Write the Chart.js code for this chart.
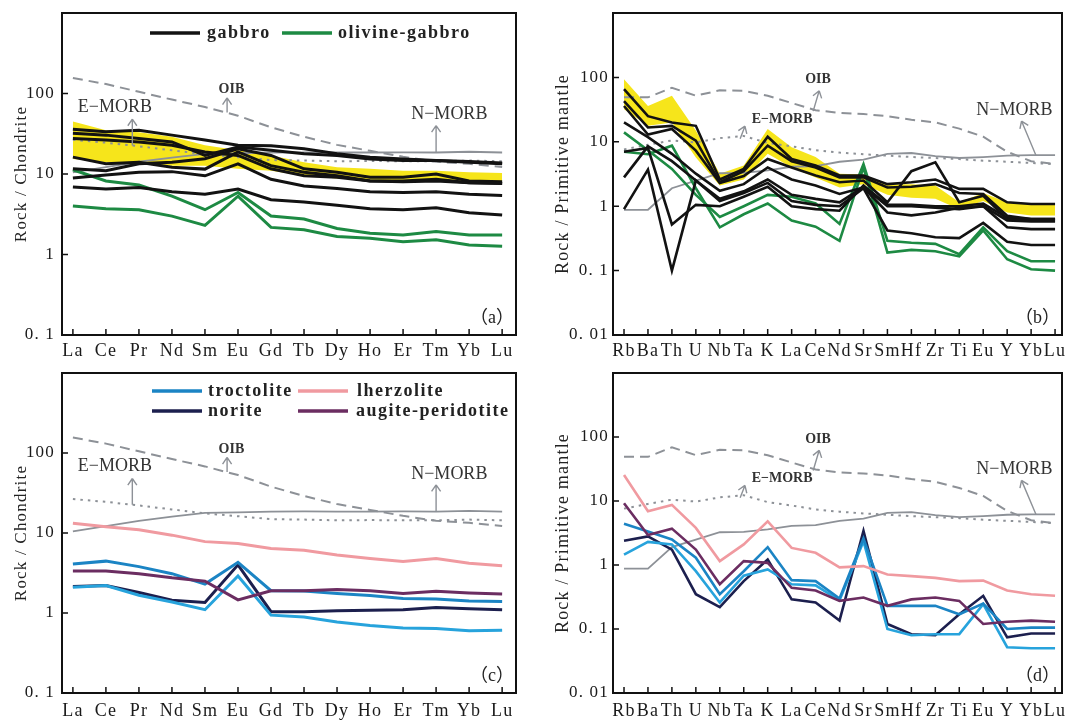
<!DOCTYPE html>
<html>
<head>
<meta charset="utf-8">
<script src="https://cdn.jsdelivr.net/npm/chart.js@4.4.1/dist/chart.umd.min.js"></script>
<style>
  html, body { margin: 0; padding: 0; background: #fff; }
  #wrap { position: relative; width: 1070px; height: 720px; }
  #wrap canvas { position: absolute; }
</style>
</head>
<body>
<div id="wrap">
  <canvas id="pa" width="535" height="360" style="left:0;top:0"></canvas>
  <canvas id="pb" width="535" height="360" style="left:535px;top:0"></canvas>
  <canvas id="pc" width="535" height="360" style="left:0;top:360px"></canvas>
  <canvas id="pd" width="535" height="360" style="left:535px;top:360px"></canvas>
</div>
<script>
// categories and tick labels
const reeLabels = ['La','Ce','Pr','Nd','Sm','Eu','Gd','Tb','Dy','Ho','Er','Tm','Yb','Lu'];
const spiderLabels = ['Rb','Ba','Th','U','Nb','Ta','K','La','Ce','Nd','Sr','Sm','Hf','Zr','Ti','Eu','Y','Yb','Lu'];
const reeTicks = [0.1, 1, 10, 100];
const spiderTicks = [0.01, 0.1, 1, 10, 100];

// reference curves, chondrite normalised
const reeOIB   = [156, 131, 105, 84, 68, 53, 38, 29, 23, 19.4, 16.4, 14.2, 13.4, 12.2];
const reeEMORB = [26.6, 24.5, 22.1, 19.7, 17.6, 16.2, 14.9, 14.7, 14.4, 14.5, 14.4, 14.4, 14.7, 14.4];
const reeNMORB = [10.5, 12.2, 14.2, 16, 17.8, 18.1, 18.5, 18.6, 18.5, 18.5, 18.6, 18.5, 18.9, 18.5];

// reference curves, primitive mantle normalised
const spOIB   = [49, 49, 69, 52, 63, 62, 52, 40, 31, 28, 27, 25, 22, 20, 16, 12, 7, 5, 4.5];
const spEMORB = [7.6, 9, 10.5, 9.8, 11.4, 12.3, 9.6, 8.5, 7.4, 6.8, 6.4, 6.1, 5.8, 5.6, 5.4, 5.1, 4.9, 4.7, 4.5];
const spNMORB = [0.88, 0.88, 1.9, 2.5, 3.25, 3.3, 3.6, 4.1, 4.2, 4.9, 5.3, 6.5, 6.7, 6.0, 5.6, 5.8, 6.1, 6.2, 6.2];

// (a) gabbro / olivine-gabbro REE
const gabbroREE = [
  [36, 33.5, 35, 30.4, 26.4, 22.8, 22.4, 20.6, 17.9, 16.2, 15.4, 14.7, 14.3, 13.7],
  [32, 30.4, 27.6, 25, 17, 21.7, 19.7, 17.9, 17, 15.4, 14.7, 14.7, 14, 13.4],
  [27.6, 26.4, 25, 22.8, 18.8, 17, 11.6, 9.5, 9.1, 8.2, 8, 8.2, 7.8, 7.6],
  [16.2, 13.4, 14, 12.1, 11.5, 18.8, 12.7, 10.5, 9.5, 8.2, 8.2, 8.6, 7.8, 7.7],
  [11.6, 11, 13.4, 14, 15.5, 20.6, 17, 11.6, 10.5, 9.1, 9.1, 10, 8.2, 8.0],
  [8.9, 9.7, 10.5, 10.7, 9.5, 13.4, 8.6, 7.1, 6.6, 6.0, 5.9, 6.0, 5.6, 5.4],
  [6.9, 6.5, 6.8, 6.0, 5.6, 6.5, 4.8, 4.5, 4.1, 3.7, 3.6, 3.8, 3.3, 3.1]
];
const olGabbroREE = [
  [11.3, 8.2, 7.3, 5.3, 3.6, 5.9, 3.0, 2.76, 2.1, 1.84, 1.75, 1.93, 1.75, 1.75],
  [4.0, 3.7, 3.6, 3.0, 2.3, 5.3, 2.17, 2.03, 1.67, 1.59, 1.44, 1.52, 1.31, 1.27]
];
const bandREEUpper = [45, 35, 33, 29, 22.8, 19.7, 17, 14, 12.1, 11.6, 11, 11, 10.5, 10.3];
const bandREELower = [15.4, 14, 13.4, 12.7, 12.7, 11.6, 11, 9.5, 8.8, 8.5, 8.3, 8.3, 7.9, 7.6];

// (b) gabbro / olivine-gabbro spider
const gabbroSP = [
  [66, 25, 20, 17.7, 2.6, 3.8, 12, 5.4, 4.3, 3.0, 3.0, 2.2, 2.35, 2.6, 1.86, 1.86, 1.15, 1.08, 1.08],
  [43, 16.7, 17.7, 10.4, 2.35, 3.5, 8.7, 5.0, 4.0, 2.8, 2.8, 1.95, 2.0, 2.2, 1.6, 1.55, 0.71, 0.63, 0.63],
  [36, 13, 15.8, 7.3, 2.3, 2.95, 5.4, 4.0, 3.0, 2.35, 2.5, 1.15, 3.5, 4.8, 1.15, 1.45, 0.63, 0.6, 0.6],
  [20, 11.8, 6.5, 3.2, 1.74, 2.2, 4.0, 2.6, 2.1, 1.55, 1.95, 0.8, 0.72, 0.8, 0.95, 1.0, 0.47, 0.44, 0.44],
  [2.8, 8.5, 5.0, 2.5, 1.2, 1.6, 2.3, 1.2, 1.05, 1.0, 1.9, 0.42, 0.38, 0.33, 0.32, 0.55, 0.28, 0.25, 0.25],
  [0.9, 3.7, 0.1, 2.5, 1.3, 1.7, 2.6, 1.5, 1.3, 1.15, 2.0, 1.0, 1.0, 0.95, 0.9, 1.0, 0.6, 0.58, 0.58],
  [7, 8, 0.52, 1.05, 1.0, 1.4, 2.0, 1.0, 0.9, 0.85, 2.1, 1.05, 1.05, 1.0, 1.0, 1.1, 0.66, 0.63, 0.63]
];
const olGabbroSP = [
  [14, 7.4, 3.8, 1.5, 0.68, 1.0, 1.5, 1.4, 1.1, 0.53, 4.5, 0.29, 0.27, 0.26, 0.18, 0.47, 0.2, 0.14, 0.14],
  [7, 6.4, 8.7, 1.9, 0.47, 0.75, 1.1, 0.6, 0.48, 0.29, 4.0, 0.19, 0.21, 0.2, 0.166, 0.42, 0.15, 0.105, 0.1]
];
const bandSPUpper = [94, 36, 52, 15, 3.2, 4.3, 15.8, 8.2, 5.8, 3.2, 3.1, 2.2, 2.2, 2.1, 1.15, 1.6, 1.15, 1.1, 1.1];
const bandSPLower = [32, 17.8, 20, 5.7, 2.1, 2.6, 6.5, 4.0, 2.8, 1.95, 2.2, 1.5, 1.35, 1.3, 0.9, 1.2, 0.8, 0.72, 0.72];

// (c) REE of the other rock types
const troctoliteREE = [
  [4.1, 4.45, 3.8, 3.1, 2.3, 4.3, 1.9, 1.88, 1.75, 1.66, 1.52, 1.5, 1.41, 1.39],
  [2.1, 2.2, 1.67, 1.37, 1.1, 2.9, 0.94, 0.89, 0.77, 0.7, 0.65, 0.64, 0.6, 0.61]
];
const noriteREE = [2.14, 2.2, 1.8, 1.44, 1.35, 4.0, 1.04, 1.04, 1.07, 1.08, 1.1, 1.17, 1.13, 1.1];
const lherzoliteREE = [13.2, 12, 11, 9.4, 7.8, 7.4, 6.4, 6.1, 5.3, 4.8, 4.4, 4.8, 4.2, 3.9];
const augiteREE = [3.35, 3.35, 3.1, 2.75, 2.5, 1.46, 1.9, 1.9, 1.96, 1.9, 1.75, 1.87, 1.78, 1.73];

// (d) spider of the other rock types
const troctoliteSP = [
  [4.4, 3.35, 2.5, 1.3, 0.35, 0.8, 1.9, 0.58, 0.56, 0.3, 2.6, 0.23, 0.23, 0.23, 0.17, 0.25, 0.1, 0.105, 0.105],
  [1.45, 2.3, 2.1, 0.8, 0.26, 0.68, 0.85, 0.5, 0.48, 0.28, 2.35, 0.1, 0.08, 0.083, 0.083, 0.245, 0.052, 0.05, 0.05]
];
const noriteSP = [2.4, 2.8, 1.74, 0.35, 0.22, 0.56, 1.22, 0.29, 0.26, 0.135, 3.4, 0.12, 0.083, 0.08, 0.17, 0.33, 0.074, 0.085, 0.085];
const lherzoliteSP = [25.4, 6.9, 8.7, 3.8, 1.15, 2.1, 4.8, 1.85, 1.55, 0.92, 0.96, 0.71, 0.67, 0.63, 0.56, 0.57, 0.4, 0.35, 0.33];
const augiteSP = [9.2, 2.95, 3.7, 1.74, 0.5, 1.15, 1.08, 0.44, 0.4, 0.275, 0.31, 0.23, 0.29, 0.31, 0.275, 0.12, 0.13, 0.135, 0.13];

const SERIF = "'Liberation Serif','DejaVu Serif',serif";
const BLACK = '#121212', GREEN = '#1d8a43', YELLOW = '#f6e51b', REF = '#8d9197';
const BLUE = '#1b84c4', CYAN = '#27a3dc', PINK = '#f09aa0', NAVY = '#1c1f4e', PURPLE = '#6b2d61';

function ds(values, color, width, extra) {
  return Object.assign({
    data: values.map((v, i) => ({ x: i, y: v })),
    borderColor: color, borderWidth: width, pointRadius: 0,
    fill: false, tension: 0, order: 1
  }, extra || {});
}
function band(up, lo) {
  return [
    ds(up, 'rgba(0,0,0,0)', 0, { fill: '+1', backgroundColor: YELLOW, order: 3 }),
    ds(lo, 'rgba(0,0,0,0)', 0, { order: 3 })
  ];
}
function refs(oib, emorb, nmorb) {
  return [
    ds(oib, REF, 2, { borderDash: [10, 6], order: 2 }),
    ds(emorb, REF, 2, { borderDash: [2.5, 5], order: 2 }),
    ds(nmorb, REF, 1.8, { order: 2 })
  ];
}

// arrows, labels, ticks, frame, legend
const decor = {
  id: 'decor',
  beforeDraw(chart) {
    // the scanned figure has wide-set lettering
    chart.ctx.letterSpacing = '1.2px';
  },
  afterDraw(chart, args, o) {
    const { ctx, chartArea: a } = chart;
    const sx = chart.scales.x, sy = chart.scales.y;
    ctx.save();
    ctx.letterSpacing = '0px';
    o.notes.forEach(n => {
      const x0 = sx.getPixelForValue(n.from[0]), y0 = sy.getPixelForValue(n.from[1]);
      const x1 = sx.getPixelForValue(n.to[0]), y1 = sy.getPixelForValue(n.to[1]);
      const ang = Math.atan2(y1 - y0, x1 - x0);
      ctx.strokeStyle = REF; ctx.lineWidth = 1.4;
      ctx.beginPath();
      ctx.moveTo(x0, y0); ctx.lineTo(x1, y1);
      [0.6, -0.6].forEach(d => {
        ctx.moveTo(x1, y1);
        ctx.lineTo(x1 - 8 * Math.cos(ang + d), y1 - 8 * Math.sin(ang + d));
      });
      ctx.stroke();
      ctx.fillStyle = '#333'; ctx.font = n.font;
      ctx.textAlign = 'center'; ctx.textBaseline = 'middle';
      ctx.fillText(n.text, sx.getPixelForValue(n.at[0]), sy.getPixelForValue(n.at[1]));
    });
    ctx.strokeStyle = '#111'; ctx.lineWidth = 1.5;
    ctx.beginPath();
    sx.ticks.forEach(t => {
      const p = sx.getPixelForValue(t.value);
      ctx.moveTo(p, a.bottom); ctx.lineTo(p, a.bottom - 6);
    });
    sy.ticks.forEach(t => {
      const p = sy.getPixelForValue(t.value);
      ctx.moveTo(a.left, p); ctx.lineTo(a.left + 6, p);
    });
    ctx.stroke();
    ctx.lineWidth = 2;
    ctx.strokeRect(a.left, a.top, a.right - a.left, a.bottom - a.top);
    ctx.letterSpacing = '1.5px';
    ctx.font = 'bold 18px ' + SERIF; ctx.textAlign = 'left'; ctx.textBaseline = 'middle';
    o.legend.forEach(l => {
      ctx.strokeStyle = l.color; ctx.lineWidth = 3.5;
      ctx.beginPath(); ctx.moveTo(l.x0, l.y); ctx.lineTo(l.x1, l.y); ctx.stroke();
      ctx.fillStyle = '#222'; ctx.fillText(l.text, l.tx, l.y);
    });
    ctx.letterSpacing = '0px';
    ctx.font = "18px 'Liberation Serif','Noto Sans CJK SC',serif";
    ctx.textAlign = 'right'; ctx.fillStyle = '#222';
    ctx.fillText(o.letter, a.right - 2, a.bottom - 17);
    ctx.restore();
  }
};

const reeNotes = [
  { text: 'E\u2212MORB', font: '18px ' + SERIF, at: [1.27, 68], from: [1.8, 22.6], to: [1.8, 48] },
  { text: 'OIB', font: 'bold 14px ' + SERIF, at: [4.8, 112], from: [4.67, 58], to: [4.67, 88] },
  { text: 'N\u2212MORB', font: '18px ' + SERIF, at: [11.4, 55], from: [11, 18.5], to: [11, 40] }
];
const spNotes = [
  { text: 'OIB', font: 'bold 14px ' + SERIF, at: [8.1, 92], from: [7.9, 30], to: [8.15, 62] },
  { text: 'E\u2212MORB', font: 'bold 14px ' + SERIF, at: [6.6, 22.5], from: [4.85, 11.2], to: [5.05, 17.5] },
  { text: 'N\u2212MORB', font: '18px ' + SERIF, at: [16.3, 31], from: [17.2, 6.2], to: [16.6, 21] }
];

function fmtTick(v) {
  if (v === 0.1) return '0. 1';
  if (v === 0.01) return '0. 01';
  return String(v);
}

function panel(id, p) {
  new Chart(document.getElementById(id), {
    type: 'line',
    data: { datasets: p.datasets },
    options: {
      responsive: false, animation: false, events: [],
      layout: { padding: { left: 0, right: p.padRight, top: 13, bottom: 0 } },
      plugins: {
        legend: { display: false }, tooltip: { enabled: false },
        decor: { notes: p.notes, legend: p.legend, letter: p.letter }
      },
      scales: {
        x: {
          type: 'linear', min: p.xmin, max: p.xmax,
          grid: { display: false, drawTicks: false }, border: { display: false },
          afterBuildTicks: s => { s.ticks = p.labels.map((_, i) => ({ value: i })); },
          afterFit: s => { s.height = p.xh; s.paddingLeft = 0; s.paddingRight = 0; },
          ticks: {
            autoSkip: false, maxRotation: 0, minRotation: 0, padding: p.xpad,
            color: '#1a1a1a', font: { family: SERIF, size: 18 },
            callback: v => p.labels[v]
          }
        },
        y: {
          type: 'logarithmic', min: p.ymin, max: 1000,
          grid: { display: false, drawTicks: false }, border: { display: false },
          afterBuildTicks: s => { s.ticks = p.yticks.map(v => ({ value: v })); },
          afterFit: s => { s.width = p.yw; s.paddingTop = 0; s.paddingBottom = 0; },
          ticks: { padding: p.ypad, color: '#1a1a1a', font: { family: SERIF, size: 17 }, callback: v => fmtTick(v) },
          title: {
            display: true, text: p.title, color: '#222',
            font: { family: SERIF, size: p.titleSize }, padding: { top: p.titlePad, bottom: 0 }
          }
        }
      }
    },
    plugins: [decor]
  });
}

const reeBase = { labels: reeLabels, xmin: -0.33, xmax: 13.42, padRight: 19, yw: 62, ymin: 0.1,
  yticks: reeTicks, ypad: 7, title: 'Rock / Chondrite', titleSize: 17, titlePad: 11, notes: reeNotes };
const spBase = { labels: spiderLabels, xmin: -0.46, xmax: 18.29, padRight: 8, yw: 78, ymin: 0.01,
  yticks: spiderTicks, ypad: 4, title: 'Rock / Primitive mantle', titleSize: 18, titlePad: 17, notes: spNotes };

panel('pa', Object.assign({}, reeBase, {
  xh: 25, xpad: 5, letter: '（a）',
  legend: [
    { text: 'gabbro', color: BLACK, x0: 150, x1: 200, y: 33, tx: 207 },
    { text: 'olivine-gabbro', color: GREEN, x0: 282, x1: 332, y: 33, tx: 338 }
  ],
  datasets: [].concat(
    band(bandREEUpper, bandREELower),
    refs(reeOIB, reeEMORB, reeNMORB),
    gabbroREE.map(r => ds(r, BLACK, 3)),
    olGabbroREE.map(r => ds(r, GREEN, 3))
  )
}));

panel('pb', Object.assign({}, spBase, {
  xh: 25, xpad: 5, letter: '（b）', legend: [],
  datasets: [].concat(
    band(bandSPUpper, bandSPLower),
    refs(spOIB, spEMORB, spNMORB),
    gabbroSP.map(r => ds(r, BLACK, 2.6)),
    olGabbroSP.map(r => ds(r, GREEN, 2.6))
  )
}));

panel('pc', Object.assign({}, reeBase, {
  xh: 27, xpad: 7, letter: '（c）',
  legend: [
    { text: 'troctolite', color: BLUE, x0: 152, x1: 202, y: 31, tx: 208 },
    { text: 'lherzolite', color: PINK, x0: 298, x1: 348, y: 31, tx: 357 },
    { text: 'norite', color: NAVY, x0: 152, x1: 202, y: 51, tx: 208 },
    { text: 'augite-peridotite', color: PURPLE, x0: 298, x1: 348, y: 51, tx: 356 }
  ],
  datasets: [].concat(
    refs(reeOIB, reeEMORB, reeNMORB),
    [ds(lherzoliteREE, PINK, 3), ds(augiteREE, PURPLE, 3)],
    [ds(troctoliteREE[0], BLUE, 3), ds(troctoliteREE[1], CYAN, 3)],
    [ds(noriteREE, NAVY, 3)]
  )
}));

panel('pd', Object.assign({}, spBase, {
  xh: 27, xpad: 7, letter: '（d）', legend: [],
  datasets: [].concat(
    refs(spOIB, spEMORB, spNMORB),
    [ds(lherzoliteSP, PINK, 2.6), ds(augiteSP, PURPLE, 2.6)],
    [ds(troctoliteSP[0], BLUE, 2.6), ds(troctoliteSP[1], CYAN, 2.6)],
    [ds(noriteSP, NAVY, 2.6)]
  )
}));
</script>
</body>
</html>
